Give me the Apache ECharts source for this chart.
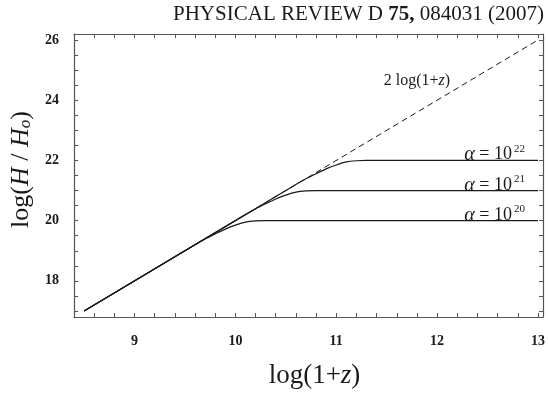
<!DOCTYPE html>
<html>
<head>
<meta charset="utf-8">
<script src="https://cdn.jsdelivr.net/npm/echarts@6/dist/echarts.min.js"></script>
<style>
  html, body { margin: 0; padding: 0; background: #fff; }
  #chart { width: 548px; height: 394px; }
</style>
</head>
<body>
<div id="chart"></div>
<script>
// values: [log(1+z), log(H/Ho)]
const limitLine = [[8.5, 17], [13.0, 26.0]];
const alpha20 = [[8.5, 17], [9.6, 19.2], [9.7, 19.39], [9.8, 19.56], [9.9, 19.72], [10.0, 19.85], [10.1, 19.95], [10.2, 19.99], [10.3, 20], [13.0, 20]];
const alpha21 = [[8.5, 17], [10.1, 20.2], [10.2, 20.39], [10.3, 20.56], [10.4, 20.72], [10.5, 20.85], [10.6, 20.95], [10.7, 20.99], [10.8, 21], [13.0, 21]];
const alpha22 = [[8.5, 17], [10.6, 21.2], [10.7, 21.39], [10.8, 21.56], [10.9, 21.72], [11.0, 21.85], [11.1, 21.95], [11.2, 21.99], [11.3, 22], [13.0, 22]];
const xLabels = [9, 10, 11, 12, 13];
const yLabels = [18, 20, 22, 24, 26];
const alphaExp = ['22', '21', '20'];
const alphaLabelAt = [[12.57, 22.19], [12.57, 21.17], [12.57, 20.17]];
const limitLabelAt = [11.8, 24.66];

const serif = '"Liberation Serif", "DejaVu Serif", serif';
const ink = '#1a1a1a';
const axisCol = '#555';

const xTicks = [];
for (let v = 8.6; v <= 13.01; v += 0.2) xTicks.push(+v.toFixed(1));
const yTicks = [];
for (let v = 17; v <= 26.01; v += 0.5) yTicks.push(v);

const chart = echarts.init(document.getElementById('chart'));

const axisBase = {
  type: 'value',
  axisLine: { show: true, onZero: false, lineStyle: { color: axisCol, width: 1.2 } },
  splitLine: { show: false },
  axisTick: { inside: true, length: 4, lineStyle: { color: axisCol } }
};

const alphaRich = {
  a: { fontFamily: serif, fontStyle: 'italic', fontSize: 20, color: ink },
  t: { fontFamily: serif, fontSize: 18, color: ink },
  s: { fontFamily: serif, fontSize: 11, color: ink, verticalAlign: 'top', padding: [0, 0, 12, 2] }
};

function alphaMark(i) {
  return {
    symbol: 'circle', symbolSize: 0, silent: true,
    data: [{ coord: alphaLabelAt[i] }],
    label: {
      show: true, position: 'inside',
      formatter: '{a|α}{t| = 10}{s|' + alphaExp[i] + '}',
      rich: alphaRich
    }
  };
}

const curve = { type: 'line', showSymbol: false, smooth: 0.3, lineStyle: { color: ink, width: 1.2 }, z: 3 };

chart.setOption({
  animation: false,
  backgroundColor: '#fff',
  grid: { left: 73, right: 5, top: 34, bottom: 65 },
  graphic: [{
    type: 'text', right: 4, top: 4,
    style: {
      text: '{n|PHYSICAL REVIEW D }{b|75,}{n| 084031 (2007)}',
      rich: {
        n: { fontFamily: serif, fontSize: 21, fill: ink },
        b: { fontFamily: serif, fontSize: 21, fontWeight: 'bold', fill: ink }
      }
    }
  }],
  xAxis: [
    Object.assign({}, axisBase, {
      min: 8.4, max: 13.05, position: 'bottom',
      axisTick: Object.assign({}, axisBase.axisTick, { customValues: xTicks }),
      axisLabel: { customValues: xLabels, margin: 17, fontFamily: serif, fontWeight: 'bold', fontSize: 14, color: ink },
      name: '{n|log(1+}{i|z}{n|)}',
      nameLocation: 'middle', nameGap: 45,
      nameTextStyle: {
        padding: [0, 0, 0, 12],
        rich: {
          n: { fontFamily: serif, fontSize: 27, color: ink },
          i: { fontFamily: serif, fontStyle: 'italic', fontSize: 27, color: ink }
        }
      }
    }),
    Object.assign({}, axisBase, {
      min: 8.4, max: 13.05, position: 'top',
      axisTick: Object.assign({}, axisBase.axisTick, { customValues: xTicks }),
      axisLabel: { show: false }
    })
  ],
  yAxis: [
    Object.assign({}, axisBase, {
      min: 16.8, max: 26.2, position: 'left',
      axisTick: Object.assign({}, axisBase.axisTick, { customValues: yTicks }),
      axisLabel: { customValues: yLabels, margin: 15, fontFamily: serif, fontWeight: 'bold', fontSize: 14, color: ink },
      name: '{n|log(}{i|H}{n| / }{i|H}{s|o}{n|)}',
      nameLocation: 'middle', nameGap: 40, nameRotate: 90,
      nameTextStyle: {
        padding: [0, 0, 0, 12],
        rich: {
          n: { fontFamily: serif, fontSize: 26, color: ink },
          i: { fontFamily: serif, fontStyle: 'italic', fontSize: 26, color: ink },
          s: { fontFamily: serif, fontStyle: 'italic', fontSize: 17, color: ink, verticalAlign: 'bottom', padding: [7, 0, 0, 0] }
        }
      }
    }),
    Object.assign({}, axisBase, {
      min: 16.8, max: 26.2, position: 'right',
      axisTick: Object.assign({}, axisBase.axisTick, { customValues: yTicks }),
      axisLabel: { show: false }
    })
  ],
  series: [
    {
      type: 'line', showSymbol: false, data: limitLine, z: 2,
      lineStyle: { color: ink, width: 1, type: [6, 4] },
      markPoint: {
        symbol: 'circle', symbolSize: 0, silent: true,
        data: [{ coord: limitLabelAt }],
        label: {
          show: true, position: 'inside',
          formatter: '{t|2 log(1+}{i|z}{t|)}',
          rich: {
            t: { fontFamily: serif, fontSize: 16, color: ink },
            i: { fontFamily: serif, fontStyle: 'italic', fontSize: 16, color: ink }
          }
        }
      }
    },
    Object.assign({}, curve, { data: alpha22, markPoint: alphaMark(0) }),
    Object.assign({}, curve, { data: alpha21, markPoint: alphaMark(1) }),
    Object.assign({}, curve, { data: alpha20, markPoint: alphaMark(2) })
  ]
});
</script>
</body>
</html>
